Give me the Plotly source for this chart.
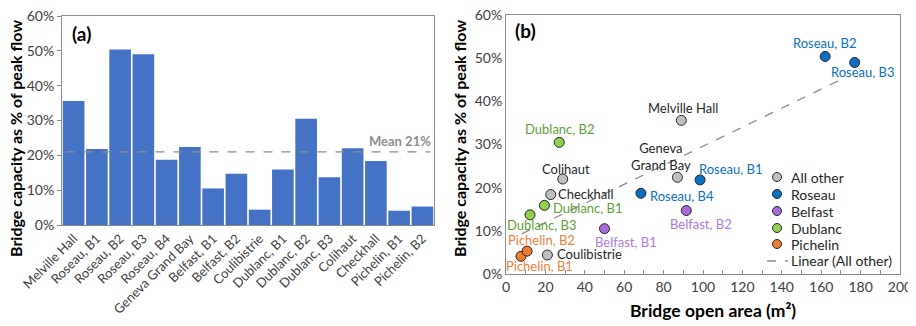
import plotly.graph_objects as go

# ---------------- data ----------------
bar_categories = ["Melville Hall", "Roseau, B1", "Roseau, B2", "Roseau, B3", "Roseau, B4",
                  "Geneva Grand Bay", "Belfast, B1", "Belfast, B2", "Coulibistrie",
                  "Dublanc, B1", "Dublanc, B2", "Dublanc, B3", "Colihaut", "Checkhall",
                  "Pichelin, B1", "Pichelin, B2"]
bar_values = [35.6, 21.8, 50.4, 49.0, 18.7, 22.4, 10.5, 14.7, 4.4,
              15.9, 30.5, 13.7, 22.0, 18.4, 4.1, 5.3]
mean_value = 21

other_names = ["Melville Hall", "Geneva<br>Grand Bay", "Colihaut", "Checkhall", "Coulibistrie"]
other_area = [89, 87, 28.8, 22.7, 21]
other_cap = [35.6, 22.4, 22.0, 18.4, 4.4]

roseau_names = ["Roseau, B1", "Roseau, B2", "Roseau, B3", "Roseau, B4"]
roseau_area = [98.5, 162, 177, 68.5]
roseau_cap = [21.8, 50.4, 49.0, 18.7]

belfast_names = ["Belfast, B1", "Belfast, B2"]
belfast_area = [50, 91.5]
belfast_cap = [10.5, 14.7]

dublanc_names = ["Dublanc, B1", "Dublanc, B2", "Dublanc, B3"]
dublanc_area = [19.5, 27, 12.2]
dublanc_cap = [15.9, 30.5, 13.7]

pichelin_names = ["Pichelin, B1", "Pichelin, B2"]
pichelin_area = [7.6, 10.7]
pichelin_cap = [4.1, 5.3]

trend_area = [8, 173]
trend_cap = [9.3, 45.7]

y_ticks = [0, 10, 20, 30, 40, 50, 60]
y_tick_labels = ["0%", "10%", "20%", "30%", "40%", "50%", "60%"]

# ---------------- layout helpers ----------------
FONT = "Lato"
OX, OY = 8, 8            # page body margin
W, H = 908, 318          # figure size (fills the 916x326 window after the margin)
TICKCOL = "#404040"
FRAME = "#8c8c8c"


def px(x):
    return (x - OX) / W


def py(y):
    return (H - (y - OY)) / H


series = [
    ("All other", other_names, other_area, other_cap, "#bfbfbf", "#262626",
     [(2, 12, "center"), (-16, 21, "center"), (3, 10, "center"), (5, 1, "left"), (8, 1, "left")]),
    ("Roseau", roseau_names, roseau_area, roseau_cap, "#0a6fc2", "#0a70c0",
     [(-3, 11, "left"), (0, 13, "center"), (8, -10, "center"), (7, -3, "left")]),
    ("Belfast", belfast_names, belfast_area, belfast_cap, "#a86bd8", "#b07ade",
     [(21, -13, "center"), (15, -13, "center")]),
    ("Dublanc", dublanc_names, dublanc_area, dublanc_cap, "#92d050", "#5f9e36",
     [(7, -3, "left"), (1, 13, "center"), (12, -10, "center")]),
    ("Pichelin", pichelin_names, pichelin_area, pichelin_cap, "#ed7d31", "#f07f3c",
     [(19, -10, "center"), (14, 11, "center")]),
]

fig = go.Figure()

# Panel (a) bars
fig.add_trace(go.Bar(x=bar_categories, y=bar_values, marker_color="#4472c4",
                     marker_line_width=0, showlegend=False, xaxis="x", yaxis="y"))
fig.add_trace(go.Scatter(x=[-0.35, 15.35], y=[mean_value, mean_value], mode="lines",
                         line=dict(color="#8c8c8c", dash="dash", width=1.3),
                         showlegend=False, xaxis="x3", yaxis="y"))

# Panel (b) scatter
annotations = []
shapes = []
legend_rows_y = [177, 194, 211, 228, 244]
for (name, labels, xs, ys, fill, tcol, offs), ly in zip(series, legend_rows_y):
    fig.add_trace(go.Scatter(x=xs, y=ys, mode="markers", name=name, showlegend=False,
                             marker=dict(size=10, color=fill, line=dict(color="#262626", width=1)),
                             xaxis="x2", yaxis="y2"))
    for lab, xv, yv, (dx, dy, anc) in zip(labels, xs, ys, offs):
        annotations.append(dict(x=xv, y=yv, xref="x2", yref="y2", text=lab, showarrow=False,
                                xshift=dx, yshift=dy, xanchor=anc, yanchor="middle",
                                font=dict(family=FONT, size=13, color=tcol)))
    # legend entry
    shapes.append(dict(type="circle", xref="paper", yref="paper",
                       x0=px(772.5), x1=px(781.5), y0=py(ly + 4.5), y1=py(ly - 4.5),
                       fillcolor=fill, line=dict(color="#262626", width=1)))
    annotations.append(dict(x=px(789), y=py(ly), xref="paper", yref="paper", text=name,
                            showarrow=False, xanchor="left", yanchor="middle",
                            font=dict(family=FONT, size=14, color="#262626")))

fig.add_trace(go.Scatter(x=trend_area, y=trend_cap, mode="lines", name="Linear (All other)",
                         showlegend=False, line=dict(color="#8c8c8c", dash="dash", width=1.3),
                         xaxis="x2", yaxis="y2"))
shapes.append(dict(type="line", xref="paper", yref="paper", x0=px(767), x1=px(788),
                   y0=py(261), y1=py(261), line=dict(color="#8c8c8c", dash="dash", width=1.3)))
annotations.append(dict(x=px(789), y=py(261), xref="paper", yref="paper",
                        text="Linear (All other)", showarrow=False, xanchor="left",
                        yanchor="middle", font=dict(family=FONT, size=14, color="#262626")))

# text annotations
annotations += [
    dict(x=15.45, y=mean_value, xref="x3", yref="y", text="<b>Mean 21%</b>", showarrow=False,
         xanchor="right", yanchor="bottom", yshift=1, font=dict(family=FONT, size=13, color="#8c8c8c")),
    dict(x=px(70), y=py(34), xref="paper", yref="paper", text="<b>(a)</b>", showarrow=False,
         xanchor="left", yanchor="middle", font=dict(family=FONT, size=19, color="black")),
    dict(x=px(513), y=py(31), xref="paper", yref="paper", text="<b>(b)</b>", showarrow=False,
         xanchor="left", yanchor="middle", font=dict(family=FONT, size=19, color="black")),
    dict(x=px(15), y=py(139), xref="paper", yref="paper",
         text="<b>Bridge capacity as % of peak flow</b>", textangle=-90, showarrow=False,
         xanchor="center", yanchor="middle", font=dict(family=FONT, size=16, color="black")),
    dict(x=px(459), y=py(139), xref="paper", yref="paper",
         text="<b>Bridge capacity as % of peak flow</b>", textangle=-90, showarrow=False,
         xanchor="center", yanchor="middle", font=dict(family=FONT, size=16, color="black")),
    dict(x=px(713), y=py(310), xref="paper", yref="paper",
         text="<b>Bridge open area (m²)</b>", showarrow=False,
         xanchor="center", yanchor="middle", font=dict(family=FONT, size=17.5, color="black")),
]

ax_common = dict(showline=True, linecolor=FRAME, linewidth=1, mirror=True, showgrid=False,
                 zeroline=False, automargin=False, ticklabeloverflow="allow")
tf14 = dict(family=FONT, size=14, color=TICKCOL)

fig.update_layout(
    width=W, height=H, margin=dict(l=0, r=0, t=0, b=0, autoexpand=False),
    paper_bgcolor="white", plot_bgcolor="white",
    font=dict(family=FONT),
    bargap=0.07,
    showlegend=False,
    xaxis=dict(domain=[px(62), px(434)], anchor="y", range=[-0.5, 15.5], tickangle=-45,
               ticks="", tickfont=dict(family=FONT, size=13, color=TICKCOL), **ax_common),
    xaxis3=dict(domain=[px(62), px(434)], anchor="y", overlaying="x", range=[-0.5, 15.5],
                visible=False),
    yaxis=dict(domain=[py(225), py(16)], anchor="x", range=[0, 60],
               tickvals=y_ticks, ticktext=y_tick_labels, ticks="outside", ticklen=4,
               tickcolor=FRAME, tickfont=tf14, **ax_common),
    xaxis2=dict(domain=[px(506), px(900)], anchor="y2", range=[0, 200], dtick=20,
                ticks="inside", ticklen=4, tickcolor=FRAME, tickfont=tf14,
                minor=dict(dtick=10, ticks="inside", ticklen=4, tickcolor=FRAME), **ax_common),
    yaxis2=dict(domain=[py(274), py(15)], anchor="x2", range=[0, 60],
                tickvals=y_ticks, ticktext=y_tick_labels, ticks="", tickfont=tf14, **ax_common),
    annotations=annotations,
    shapes=shapes,
)

fig.write_html("out.html")
